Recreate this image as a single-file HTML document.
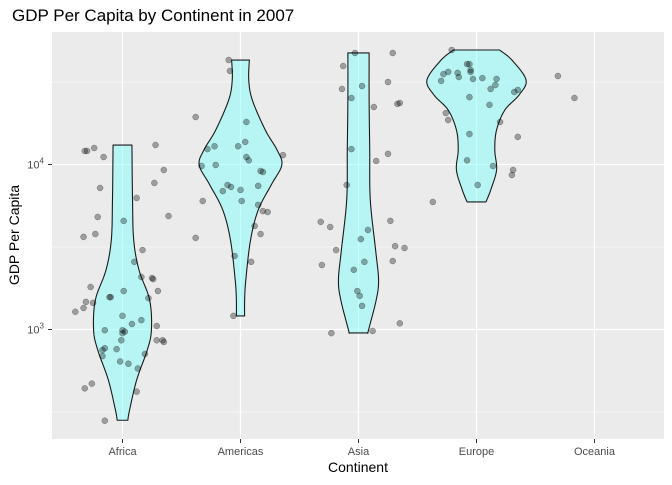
<!DOCTYPE html>
<html><head><meta charset="utf-8"><style>
body{margin:0;background:#fff;}
svg text{font-family:"Liberation Sans",Arial,sans-serif;}
</style></head><body>
<svg id="chart" width="672" height="480" viewBox="0 0 672 480" xmlns="http://www.w3.org/2000/svg">
<text x="12" y="21" font-size="17" fill="#000">GDP Per Capita by Continent in 2007</text>
<rect x="52" y="32" width="612" height="407" fill="#ebebeb"/>
<g id="grid"></g><g id="violins"></g><g id="points"></g><g id="axes"></g>
<text x="358" y="472" font-size="14" text-anchor="middle" fill="#000">Continent</text>
<text transform="translate(19,235) rotate(-90)" font-size="14" text-anchor="middle" fill="#000">GDP Per Capita</text>
</svg>
<script>
const categories = ["Africa","Americas","Asia","Europe","Oceania"];
const yTicks = [3,4];
const africaGdp = [12080,12080,12590,11100,7210,13130,9260,7730,6270,4870,4810,3640,3790,4550,3030,2570,2050,2020,1710,2080,1810,1570,1570,1470,1280,1350,1550,1710,1450,1210,990,1050,750,990,1080,1140,860,950,970,860,860,840,760,770,690,710,640,620,580,440,470,420,280];
const africaJit = [-0.32,-0.30,-0.24,-0.16,-0.19,0.28,0.35,0.27,0.12,0.39,-0.21,-0.33,-0.23,0.01,0.17,0.10,0.25,0.26,0.30,0.16,-0.27,-0.11,-0.10,-0.31,-0.40,-0.33,0.22,0.01,-0.25,0.00,-0.15,0.29,-0.17,0.00,0.08,0.16,-0.01,0.00,0.02,0.29,0.34,0.35,-0.05,-0.15,-0.17,0.19,-0.02,0.05,0.13,-0.32,-0.26,0.12,-0.15];
const americasGdp = [19400,43000,36900,12400,12900,12900,13700,18100,9790,9930,11100,10600,9140,9010,11400,7510,7310,7010,7420,6010,6010,6900,5150,5690,5220,4240,3790,2790,3590,2570,1210];
const americasJit = [-0.38,-0.10,-0.09,-0.28,-0.22,-0.02,0.04,0.05,-0.33,-0.21,0.05,0.07,0.17,0.19,0.36,-0.11,-0.08,0.00,0.15,0.01,-0.32,-0.15,0.23,0.15,0.19,0.12,0.17,-0.05,-0.38,0.09,-0.06];
const asiaGdp = [47400,39500,47400,28700,29900,31600,25300,22300,23300,23600,12400,11600,10500,7510,2570,4490,4180,4550,4010,3530,3200,3120,3030,2460,2600,2300,1710,1600,1390,1090,980,950];
const asiaJit = [-0.03,-0.13,0.29,-0.14,0.03,0.25,-0.06,0.13,0.33,0.35,-0.06,0.25,0.15,-0.10,0.05,-0.32,-0.24,0.27,0.08,0.02,0.31,0.39,-0.19,-0.31,0.29,-0.04,-0.01,0.01,0.03,0.35,0.12,-0.23];
const europeGdp = [49400,40600,35300,36400,35900,33900,40600,37400,36400,33000,33400,33000,28700,30300,32100,27500,28300,25600,23000,20500,18600,15300,18100,14700,10600,9790,9260,8640,7510,5930];
const europeJit = [-0.21,-0.08,-0.28,-0.24,-0.16,-0.15,-0.06,-0.05,-0.05,-0.03,0.05,0.17,0.12,0.16,-0.30,0.32,0.35,-0.06,0.11,-0.26,-0.24,-0.06,0.20,0.35,-0.08,0.14,0.31,0.30,0.01,-0.37];
const oceaniaGdp = [34400,25300];
const oceaniaJit = [-0.31,-0.17];
const africaVLog = [4.118,3.785,3.542,3.36,3.179,2.997,2.876,2.694,2.512,2.45];
const africaVW = [0.08,0.085,0.095,0.14,0.23,0.245,0.21,0.12,0.06,0.045];
const americasVLog = [4.633,4.512,4.391,4.209,4.088,3.997,3.876,3.724,3.542,3.3,3.179,3.082];
const americasVW = [0.075,0.07,0.1,0.21,0.31,0.35,0.26,0.15,0.085,0.045,0.035,0.035];
const asiaVLog = [4.676,4.391,4.088,3.785,3.482,3.3,3.179,2.997,2.979];
const asiaVW = [0.09,0.09,0.095,0.1,0.145,0.17,0.15,0.085,0.08];
const europeVLog = [4.694,4.633,4.512,4.421,4.33,4.209,4.088,3.967,3.845,3.773];
const europeVW = [0.195,0.3,0.42,0.36,0.24,0.17,0.155,0.17,0.12,0.08];

const NS="http://www.w3.org/2000/svg";
const X0=52, BAND=118;
function xScale(i){return X0+70.5+i*BAND;}
function yScale(v){return 164.5-(Math.log10(v)-4)*165;}
function yLog(l){return 164.5-(l-4)*165;}
function mk(tag,attrs,parent){const e=document.createElementNS(NS,tag);for(const k in attrs)e.setAttribute(k,attrs[k]);parent.appendChild(e);return e;}
const grid=document.getElementById('grid'),vg=document.getElementById('violins'),pg=document.getElementById('points'),ax=document.getElementById('axes');
[2.5,3.5,4.5].forEach(l=>{const y=yLog(l);const ln=mk('line',{x1:52,x2:664,y1:y,y2:y,stroke:'#fff','stroke-width':0.6},grid);

});
yTicks.forEach(t=>{const y=yLog(t);const ln=mk('line',{x1:52,x2:664,y1:y,y2:y,stroke:'#fff','stroke-width':1.2},grid);


const tk=mk('line',{x1:48,x2:52,y1:y,y2:y,stroke:'#333','stroke-width':1},ax);


const tx=mk('text',{x:44,y:y+4,'font-size':11,'text-anchor':'end',fill:'#4d4d4d'},ax);


tx.innerHTML='10<tspan dy="-5" font-size="8">'+t+'</tspan>';});
categories.forEach((c,i)=>{const x=xScale(i);const ln=mk('line',{x1:x,x2:x,y1:32,y2:439,stroke:'#fff','stroke-width':1.2},grid);


const tk=mk('line',{x1:x,x2:x,y1:439,y2:443,stroke:'#333','stroke-width':1},ax);


const tx=mk('text',{x:x,y:455,'font-size':11,'text-anchor':'middle',fill:'#4d4d4d'},ax);


tx.textContent=c;});
// sample a Catmull-Rom curve through (log, width) knots
function sampleProfile(logs,ws){const out=[];const n=logs.length;
for(let i=0;i<n-1;i++){const i0=Math.max(i-1,0),i3=Math.min(i+2,n-1);
for(let s=0;s<10;s++){const t=s/10,t2=t*t,t3=t2*t;
const cr=(a,b,c,d)=>0.5*((2*b)+(-a+c)*t+(2*a-5*b+4*c-d)*t2+(-a+3*b-3*c+d)*t3);
out.push([cr(logs[i0],logs[i],logs[i+1],logs[i3]),Math.max(0,cr(ws[i0],ws[i],ws[i+1],ws[i3]))]);}}
out.push([logs[n-1],ws[n-1]]);return out;}
function violin(i,logs,ws,name){const cx=xScale(i);const prof=sampleProfile(logs,ws);
const pts=[];prof.forEach(p=>pts.push([cx+p[1]*BAND,yLog(p[0])]));
for(let k=prof.length-1;k>=0;k--){pts.push([cx-prof[k][1]*BAND,yLog(prof[k][0])]);}
const d='M'+pts.map(p=>p[0].toFixed(2)+','+p[1].toFixed(2)).join(' L')+' Z';
const p=mk('path',{d:d,fill:'rgba(120,255,255,0.45)',stroke:'#1a1a1a','stroke-width':1.1,'stroke-linejoin':'round'},vg);

}
violin(0,africaVLog,africaVW,'violin-africa');
violin(1,americasVLog,americasVW,'violin-americas');
violin(2,asiaVLog,asiaVW,'violin-asia');
violin(3,europeVLog,europeVW,'violin-europe');
function pts(i,vals,jit,name){vals.forEach((v,k)=>{const c=mk('circle',{cx:xScale(i)+(jit[k]||0)*BAND,cy:yScale(v),r:3,fill:'rgba(0,0,0,0.33)',stroke:'rgba(0,0,0,0.4)','stroke-width':0.5},pg);

});}
pts(0,africaGdp,africaJit,'point-africa');
pts(1,americasGdp,americasJit,'point-americas');
pts(2,asiaGdp,asiaJit,'point-asia');
pts(3,europeGdp,europeJit,'point-europe');
pts(4,oceaniaGdp,oceaniaJit,'point-oceania');
</script>
</body></html>
